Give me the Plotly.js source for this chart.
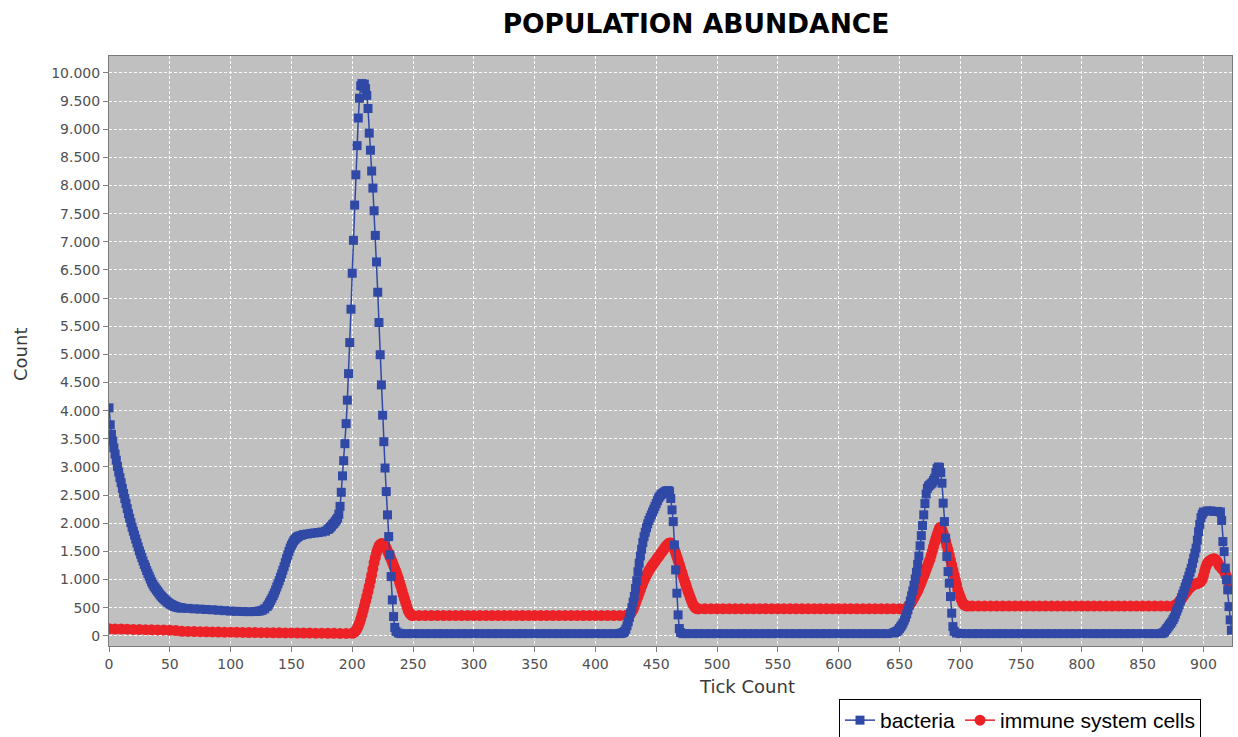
<!DOCTYPE html>
<html>
<head>
<meta charset="utf-8">
<script src="https://cdn.plot.ly/plotly-3.0.1.min.js"></script>
<style>html,body{margin:0;padding:0;background:#fff;}#chart{width:1238px;height:737px;}</style>
</head>
<body>
<div id="chart"></div>
<script>
// ---- text ----
const chartTitle = "POPULATION ABUNDANCE";
const xTitle = "Tick Count";
const yTitle = "Count";
const seriesNames = ["bacteria", "immune system cells"];
const xTickVals = [0,50,100,150,200,250,300,350,400,450,500,550,600,650,700,750,800,850,900];
const yTickVals = [0,500,1000,1500,2000,2500,3000,3500,4000,4500,5000,5500,6000,6500,7000,7500,8000,8500,9000,9500,10000];

// ---- bacteria, in segments ----
const bactTicksStart = [0,1,2,3,4,5,6,7,8,9,10,11,12,13,14,15,16,17,18,19,20,21,22,23,24,25,26,27,28,29,30,31,32,33,34,35,36,37,38,39,40,41,42,43,44,45,46,47,48,49,50,51,52,53,54,55,56,57,58,59,60];
const bactStart = [4050,3750,3580,3460,3340,3230,3120,3010,2910,2810,2720,2620,2530,2440,2350,2260,2170,2090,2010,1930,1860,1790,1720,1650,1580,1510,1450,1390,1330,1270,1220,1160,1110,1060,1010,960,920,880,850,820,790,760,730,705,680,660,640,620,600,585,570,557,545,535,525,517,510,505,500,497,495];

const bactTicksShoulder = [65,70,75,80,85,90,95,100,105,110,115,120,122,124,126,128,130,131,132,133,134,135,136,137,138,139,140,141,142,143,144,145,146,147,148,149,150,151,152,153,154,155,156,158,160,163,166,169,172,175,178,180,181,182,183,184,185,186,187,188,189,190,191];
const bactShoulder = [488,480,475,468,463,455,448,440,435,432,430,432,435,442,455,480,520,550,590,630,670,715,760,815,870,925,980,1040,1100,1165,1230,1300,1370,1435,1500,1560,1610,1650,1690,1715,1740,1755,1770,1785,1800,1810,1820,1828,1835,1845,1860,1890,1905,1930,1950,1980,2000,2030,2060,2090,2160,2300,2550];

const bactTicksPeak1 = [192,193,194,195,196,197,198,199,200,201,202,203,204,205,206,207,208,209,210,211,212,213,214,215,216,217,218,219,220,221,222,223,224,225,226,227,228,229,230,231,232,233,234,235,236,238,240];
const bactPeak1 = [2842,3111,3414,3770,4187,4658,5210,5802,6441,7026,7652,8190,8708,9199,9550,9770,9810,9760,9800,9720,9600,9367,8930,8627,8257,7954,7551,7113,6642,6104,5566,4994,4458,3920,3449,2981,2563,2149,1764,1439,1053,639,343,150,80,50,40];

const bactTicksFlat1 = [245,250,255,260,265,270,275,280,285,290,295,300,305,310,315,320,325,330,335,340,345,350,355,360,365,370,375,380,385,390,395,400,405,410,415,420];
const bactFlat1 = [40,40,40,40,40,40,40,40,40,40,40,40,40,40,40,40,40,40,40,40,40,40,40,40,40,40,40,40,40,40,40,40,40,40,40,40];

const bactTicksPeak2 = [421,422,423,424,425,426,427,428,429,430,431,432,433,434,435,436,437,438,439,440,441,442,443,444,445,446,447,448,449,450,451,452,453,454,455,456,457,458,459,460,461,462,463,464,465,466,467,468,469,470,472];
const bactPeak2 = [45,50,60,80,120,180,250,330,410,500,600,700,840,980,1140,1290,1420,1540,1660,1760,1840,1920,1990,2050,2100,2150,2200,2250,2300,2350,2400,2450,2480,2510,2525,2540,2555,2570,2575,2580,2560,2440,2238,2030,1616,1172,758,373,130,60,40];

const bactTicksFlat2 = [475,480,485,490,495,500,505,510,515,520,525,530,535,540,545,550,555,560,565,570,575,580,585,590,595,600,605,610,615,620,625,630,635,640];
const bactFlat2 = [40,40,40,40,40,40,40,40,40,40,40,40,40,40,40,40,40,40,40,40,40,40,40,40,40,40,40,40,40,40,40,40,40,40];

const bactTicksPeak3 = [645,646,647,648,649,650,651,652,653,654,655,656,657,658,659,660,661,662,663,664,665,666,667,668,669,670,671,672,673,674,675,676,677,678,679,680,681,682,683,684,685,686,687,688,689,690,691,692,693,694,695,697,700];
const bactPeak3 = [50,60,70,80,100,130,160,190,230,280,330,390,460,540,620,710,800,900,1010,1130,1270,1420,1600,1780,1960,2150,2350,2520,2620,2660,2680,2700,2720,2760,2800,2900,2970,3000,2990,2900,2712,2357,2030,1735,1409,1142,936,698,403,165,80,50,40];

const bactTicksFlat3 = [705,710,715,720,725,730,735,740,745,750,755,760,765,770,775,780,785,790,795,800,805,810,815,820,825,830,835,840,845,850,855,860,865];
const bactFlat3 = [40,40,40,40,40,40,40,40,40,40,40,40,40,40,40,40,40,40,40,40,40,40,40,40,40,40,40,40,40,40,40,40,40];

const bactTicksPeak4 = [866,867,868,869,870,871,872,873,874,875,876,877,878,879,880,881,882,883,884,885,886,887,888,889,890,891,892,893,894,895,896,897,898,899,900,903,906,909,912,914,915,916,917,918,919,920,921,922,923];
const bactPeak4 = [45,55,70,100,130,160,190,220,250,290,330,385,440,495,550,615,680,740,800,865,930,995,1060,1130,1200,1290,1380,1470,1560,1700,1850,1980,2100,2160,2200,2220,2220,2210,2210,2200,2050,1675,1497,1202,995,817,520,284,100];

// ---- immune system cells, in segments ----
const immTicksStart = [0,5,10,15,20,25,30,35,40,45,50,55,60,65,70,75,80,85,90,95,100,105,110,115,120,125,130,135,140,145,150,155,160,165,170,175,180,185,190,195];
const immStart = [125,122,120,118,115,112,110,108,105,102,100,95,80,78,76,74,72,70,68,66,65,63,62,60,58,57,56,55,54,53,52,51,50,49,48,47,46,45,44,43];

const immTicksPeak1 = [200,201,202,203,204,205,206,207,208,209,210,211,212,213,214,215,216,217,218,219,220,221,222,223,224,225,226,227,228,229,230,231,232,233,234,235,236,237,238,239,240,241,242,243,244,245,246,247,248,249,250];
const immPeak1 = [45,55,70,95,130,175,230,295,370,450,530,615,700,790,880,980,1080,1190,1300,1390,1480,1540,1600,1625,1640,1635,1620,1590,1560,1510,1460,1410,1360,1305,1250,1195,1140,1080,1020,950,880,805,730,660,590,520,450,410,380,365,360];

const immTicksFlat1 = [255,260,265,270,275,280,285,290,295,300,305,310,315,320,325,330,335,340,345,350,355,360,365,370,375,380,385,390,395,400,405,410,415,420];
const immFlat1 = [360,360,360,360,360,360,360,360,360,360,360,360,360,360,360,360,360,360,360,360,360,360,360,360,360,360,360,360,360,360,360,360,360,360];

const immTicksPeak2 = [425,426,427,428,429,430,431,432,433,434,435,436,437,438,439,440,441,442,443,444,445,446,447,448,449,450,451,452,453,454,455,456,457,458,459,460,461,462,463,464,465,466,467,468,469,470,471,472,473,474,475,476,477,478,479,480,481,482,483,484,485];
const immPeak2 = [360,365,372,380,400,430,470,520,580,640,700,760,820,880,935,990,1035,1080,1120,1160,1195,1230,1260,1290,1320,1350,1380,1410,1440,1470,1500,1530,1560,1590,1615,1640,1650,1650,1620,1580,1530,1470,1405,1340,1270,1200,1130,1060,995,930,865,800,740,680,625,570,535,500,490,480,480];

const immTicksFlat2 = [490,495,500,505,510,515,520,525,530,535,540,545,550,555,560,565,570,575,580,585,590,595,600,605,610,615,620,625,630,635,640,645,650];
const immFlat2 = [480,480,480,480,480,480,480,480,480,480,480,480,480,480,480,480,480,480,480,480,480,480,480,480,480,480,480,480,480,480,480,480,480];

const immTicksPeak3 = [655,656,657,658,659,660,661,662,663,664,665,666,667,668,669,670,671,672,673,674,675,676,677,678,679,680,681,682,683,684,685,686,687,688,689,690,691,692,693,694,695,696,697,698,699,700,701,702,703,704,705,706];
const immPeak3 = [480,495,510,540,570,605,640,680,720,760,800,850,900,955,1010,1065,1120,1180,1240,1295,1350,1425,1500,1580,1660,1730,1800,1860,1920,1930,1880,1820,1750,1680,1600,1527,1440,1350,1260,1172,1085,1000,910,817,750,690,635,580,560,540,535,530];

const immTicksFlat3 = [710,715,720,725,730,735,740,745,750,755,760,765,770,775,780,785,790,795,800,805,810,815,820,825,830,835,840,845,850,855,860,865,870];
const immFlat3 = [530,530,530,530,530,530,530,530,530,530,530,530,530,530,530,530,530,530,530,530,530,530,530,530,530,530,530,530,530,530,530,530,530];

const immTicksPeak4 = [875,876,877,878,879,880,881,882,883,884,885,886,887,888,889,890,891,892,893,894,895,896,897,898,899,900,901,902,903,904,905,906,907,908,909,910,911,912,913,914,915,916,917,918,919,920,921,922,923];
const immPeak4 = [530,535,545,560,580,605,630,660,690,720,750,780,810,835,860,880,900,910,920,925,930,940,950,970,1000,1070,1150,1220,1280,1310,1330,1345,1360,1365,1370,1350,1330,1290,1250,1225,1200,1175,1150,1100,1050,1000,950,900,850];

const bacteriaTicks = [].concat(bactTicksStart, bactTicksShoulder, bactTicksPeak1, bactTicksFlat1, bactTicksPeak2, bactTicksFlat2, bactTicksPeak3, bactTicksFlat3, bactTicksPeak4);
const bacteria = [].concat(bactStart, bactShoulder, bactPeak1, bactFlat1, bactPeak2, bactFlat2, bactPeak3, bactFlat3, bactPeak4);
const immuneTicks = [].concat(immTicksStart, immTicksPeak1, immTicksFlat1, immTicksPeak2, immTicksFlat2, immTicksPeak3, immTicksFlat3, immTicksPeak4);
const immune = [].concat(immStart, immPeak1, immFlat1, immPeak2, immFlat2, immPeak3, immFlat3, immPeak4);

if (bacteriaTicks.length !== bacteria.length) console.error("bacteria length mismatch", bacteriaTicks.length, bacteria.length);
if (immuneTicks.length !== immune.length) console.error("immune length mismatch", immuneTicks.length, immune.length);

// ---- styling ----
const blue = "#3049a6";
const red = "#ec2227";
const tickFont = {family: "DejaVu Sans", size: 14, color: "#505050"};
const axisFont = {family: "DejaVu Sans", size: 18, color: "#3a3a3a"};

const traces = [
  {
    x: immuneTicks, y: immune, name: seriesNames[1], type: "scatter", mode: "lines+markers",
    line: {color: red, width: 1.5},
    marker: {symbol: "circle", size: 11, color: red, line: {width: 0}},
    legendrank: 2
  },
  {
    x: bacteriaTicks, y: bacteria, name: seriesNames[0], type: "scatter", mode: "lines+markers",
    line: {color: blue, width: 1.5},
    marker: {symbol: "square", size: 9, color: blue, line: {width: 0}},
    legendrank: 1
  }
];

const L = 109, R = 6, T = 56, B = 91;
const W = 1238, H = 737;
const pw = W - L - R, ph = H - T - B;

const layout = {
  width: W, height: H,
  margin: {l: L, r: R, t: T, b: B, pad: 0, autoexpand: false},
  paper_bgcolor: "#ffffff",
  plot_bgcolor: "#c0c0c0",
  separators: ",.",
  showlegend: true,
  title: {
    text: "<b>" + chartTitle + "</b>",
    font: {family: "DejaVu Sans", size: 26.5, color: "#000000"},
    x: 696 / W, xref: "container", xanchor: "center",
    y: 1 - 24 / H, yref: "container", yanchor: "middle"
  },
  xaxis: {
    range: [0, 923.5],
    tickmode: "array", tickvals: xTickVals,
    tickfont: tickFont,
    ticks: "outside", ticklen: 5, tickcolor: "#808080",
    showgrid: true, gridcolor: "#ffffff", griddash: "3px,2px", gridwidth: 1,
    zeroline: false,
    showline: true, linecolor: "#7a7a7a", linewidth: 1, mirror: true
  },
  yaxis: {
    range: [-180, 10300],
    tickmode: "array", tickvals: yTickVals,
    tickformat: ",d",
    tickfont: tickFont,
    ticks: "outside", ticklen: 5, tickcolor: "#808080",
    showgrid: true, gridcolor: "#ffffff", griddash: "3px,2px", gridwidth: 1,
    zeroline: false,
    showline: true, linecolor: "#7a7a7a", linewidth: 1, mirror: true
  },
  annotations: [
    {text: xTitle, xref: "paper", yref: "paper", x: (747 - L) / pw, y: -(686 - (T + ph)) / ph,
     xanchor: "center", yanchor: "middle", showarrow: false, font: axisFont},
    {text: yTitle, xref: "paper", yref: "paper", x: (20 - L) / pw, y: ((T + ph) - 355) / ph,
     xanchor: "center", yanchor: "middle", textangle: -90, showarrow: false, font: axisFont}
  ],
  legend: {
    orientation: "h",
    x: (839 - L) / pw, xanchor: "left",
    y: -(699 - (T + ph)) / ph, yanchor: "top",
    bgcolor: "#ffffff", bordercolor: "#000000", borderwidth: 1,
    font: {family: "Liberation Sans", size: 21, color: "#000000"},
    itemwidth: 30, tracegroupgap: 0
  }
};

Plotly.newPlot("chart", traces, layout, {displayModeBar: false, staticPlot: true});
</script>
</body>
</html>
